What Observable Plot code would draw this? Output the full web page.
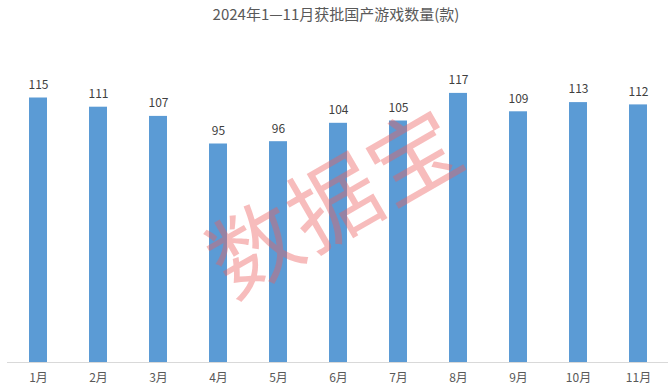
<!DOCTYPE html>
<html>
<head>
<meta charset="utf-8">
<script src="https://cdn.jsdelivr.net/npm/d3@7"></script>
<script src="https://cdn.jsdelivr.net/npm/@observablehq/plot@0.6"></script>
<style>
  body { margin: 0; background: #fff; font-family: "Noto Sans CJK SC", "Noto Sans", sans-serif; }
  #wrap { position: relative; width: 672px; height: 391px; overflow: hidden; }
  #title { height: 30px; line-height: 27px; text-align: center; font-size: 15px; color: #595959; }
  #wm { position: absolute; left: 332px; top: 197px; transform: translate(-50%, -50%) rotate(-30deg);
        font-size: 90px; color: rgba(236, 95, 95, 0.42); white-space: nowrap; pointer-events: none;
        font-family: "Noto Sans CJK SC", sans-serif; font-weight: 400; letter-spacing: 2px; }
</style>
</head>
<body>
<div id="wrap">
  <div id="title">2024年1—11月获批国产游戏数量(款)</div>
  <div id="chart"></div>
  <div id="wm">数据宝</div>
</div>
<script>
const months = ["1月","2月","3月","4月","5月","6月","7月","8月","9月","10月","11月"];
const counts = [115, 111, 107, 95, 96, 104, 105, 117, 109, 113, 112];
const watermark = "数据宝";

const data = months.map((m, i) => ({month: m, value: counts[i]}));

const chart = Plot.plot({
  width: 672,
  height: 361,
  marginTop: 10,
  marginBottom: 29,
  marginLeft: 7,
  marginRight: 4,
  style: {fontFamily: "'Noto Sans CJK SC', 'Noto Sans', sans-serif", background: "transparent"},
  x: {domain: months, paddingInner: 0.7, paddingOuter: 0.35, label: null, tickSize: 0, tickPadding: 10},
  y: {domain: [0, 140], axis: null},
  marks: [
    Plot.barY(data, {x: "month", y: "value", fill: "#5b9bd5"}),
    Plot.ruleY([0], {stroke: "#d9d9d9", strokeWidth: 1}),
    Plot.text(data, {x: "month", y: "value", text: d => String(d.value), dy: -13, fill: "#404040", fontSize: 12}),
    Plot.axisX({tickSize: 0, tickPadding: 11, fontSize: 12, color: "#595959", label: null})
  ]
});
document.getElementById("chart").appendChild(chart);
document.getElementById("wm").textContent = watermark;
</script>
</body>
</html>
